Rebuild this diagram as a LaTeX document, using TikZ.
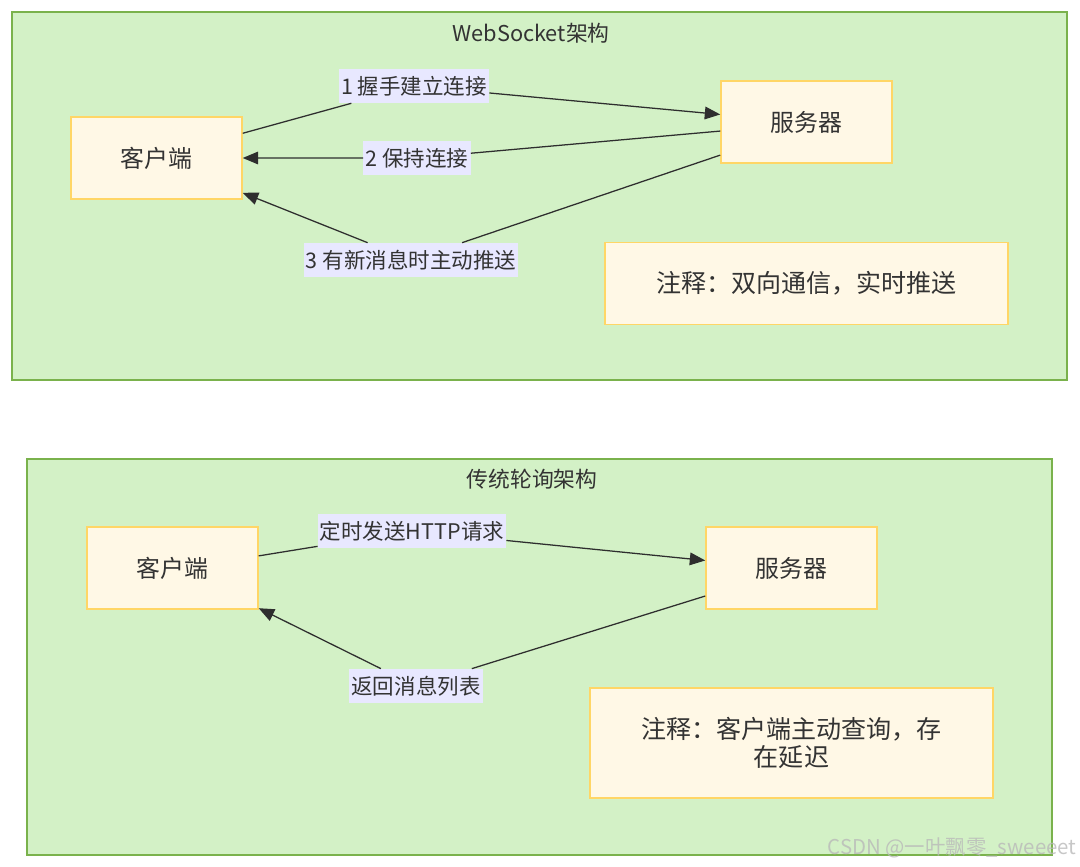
\documentclass[tikz,border=0pt]{standalone}
\usepackage{fontspec}
\setmainfont{Noto Sans CJK SC}
\usetikzlibrary{arrows.meta}

\definecolor{grpfill}{RGB}{211,241,198}
\definecolor{grpline}{RGB}{122,178,76}
\definecolor{boxfill}{RGB}{255,248,230}
\definecolor{boxline}{RGB}{255,214,102}
\definecolor{lblfill}{RGB}{232,232,255}
\definecolor{txt}{RGB}{51,51,51}

\begin{document}
\begin{tikzpicture}[x=0.025cm, y=-0.025cm,
		group/.style={draw=grpline, fill=grpfill, line width=0.9pt},
		grptitle/.style={text=txt, font=\fontsize{15.5}{18}\selectfont},
		box/.style={draw=boxline, fill=boxfill, line width=1pt, text=txt,
			minimum width=4.275cm, minimum height=2.05cm, font=\fontsize{17}{20}\selectfont},
		note/.style={box, minimum width=10.075cm, align=center, font=\fontsize{17.8}{20}\selectfont},
		lbl/.style={fill=lblfill, text=txt, inner xsep=1.5pt, inner ysep=5pt, font=\fontsize{15.3}{17}\selectfont},
		conn/.style={draw=txt!90!black, line width=0.9pt, -{Triangle[length=11pt,width=9pt]}}]
	\useasboundingbox (0,0) rectangle (1080,867);
	
	% WebSocket
	\draw[group] (12,12) rectangle (1067,380);
	\node[grptitle] (t1) at (531,33) {WebSocket架构};
	\node[box] (c1) at (156.5,158) {客户端};
	\node[box] (s1) at (806.5,122) {服务器};
	\node[note] (n1) at (806.5,283.5) {注释：双向通信，实时推送};
	
	\node[lbl] (l1) at (414,86) {1 握手建立连接};
	\node[lbl] (l2) at (417,158) {2 保持连接};
	\node[lbl] (l3) at (411,260) {3 有新消息时主动推送};
	
	\draw[conn] (c1.16) -- (l1) -- (s1.175);
	\draw[conn] (s1.186) -- (l2) -- (c1.east);
	\draw[conn] (s1.201) -- (l3) -- (c1.338);
	
	% polling
	\draw[group] (27,459) rectangle (1052,855);
	\node[grptitle] (t2) at (532,479) {传统轮询架构};
	\node[box] (c2) at (172.5,568) {客户端};
	\node[box] (s2) at (791.5,568) {服务器};
	\node[note, minimum height=2.75cm] (n2) at (791.5,743)
		{注释：客户端主动查询，存\\在延迟};
	
	\node[lbl] (l4) at (412,531) {定时发送HTTP请求};
	\node[lbl] (l5) at (416,686) {返回消息列表};
	
	\draw[conn] (c2.8) -- (l4) -- (s2.175);
	\draw[conn] (s2.198) -- (l5) -- (c2.335);
	
	\node[text=gray!55, opacity=0.8, font=\fontsize{14.5}{16}\selectfont] (wm) at (952,848)
		{CSDN @一叶飘零\_sweeeet};
\end{tikzpicture}
\end{document}
